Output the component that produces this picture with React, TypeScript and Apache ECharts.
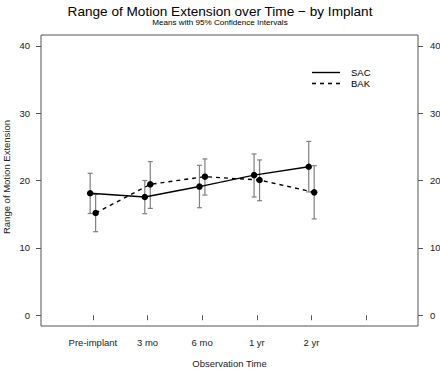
import React, { useEffect, useRef } from "react";
import * as echarts from "echarts";

const categories = ["Pre-implant", "3 mo", "6 mo", "1 yr", "2 yr"];
const seriesNames = ["SAC", "BAK"];
const sacMean = [18.1, 17.55, 19.1, 20.8, 22.05];
const sacLow = [15.1, 15.07, 15.96, 17.55, 18.3];
const sacHigh = [21.07, 20.0, 22.26, 23.94, 25.8];
const bakMean = [15.17, 19.43, 20.57, 20.07, 18.24];
const bakLow = [12.4, 15.86, 17.84, 17.0, 14.3];
const bakHigh = [17.94, 22.8, 23.2, 23.05, 22.2];
const yTicks = [0, 10, 20, 30, 40];
const xTicks = [1, 2, 3, 4, 5, 6];
const yAxisTitle = "Range of Motion Extension";

const FONT = "Liberation Sans, Arial, sans-serif";
const OFFSET = 0.05;

export default function App() {
  const ref = useRef<HTMLDivElement>(null);
  useEffect(() => {
    if (!ref.current) return;
    const chart = echarts.init(ref.current, null, { renderer: "svg" });

    const sacPts = sacMean.map((v, i) => [i + 1 - OFFSET, v]);
    const bakPts = bakMean.map((v, i) => [i + 1 + OFFSET, v]);
    const errData = [
      ...sacMean.map((_, i) => [i + 1 - OFFSET, sacLow[i], sacHigh[i]]),
      ...bakMean.map((_, i) => [i + 1 + OFFSET, bakLow[i], bakHigh[i]]),
    ];

    const yAxisCommon = {
      type: "value" as const,
      min: -1.6,
      max: 41.6,
      splitLine: { show: false },
      axisLine: { show: false },
      axisTick: {
        show: true,
        length: 5,
        customValues: yTicks,
        lineStyle: { color: "#555", width: 1 },
      },
    };
    const labelStyle = { fontSize: 9.5, color: "#222", fontFamily: FONT };

    chart.setOption({
      animation: false,
      backgroundColor: "#fff",
      title: [
        {
          text: "Range of Motion Extension over Time \u2212 by Implant",
          left: "center",
          top: 4,
          padding: 0,
          textStyle: { fontSize: 13.6, fontWeight: "normal", color: "#000", fontFamily: FONT },
        },
        {
          text: "Means with 95% Confidence Intervals",
          left: "center",
          top: 18,
          padding: 0,
          textStyle: { fontSize: 8.1, fontWeight: "normal", color: "#000", fontFamily: FONT },
        },
      ],
      grid: {
        left: 41,
        right: 22,
        top: 35,
        bottom: 43,
        containLabel: false,
        outerBoundsMode: "none",
        show: true,
        borderColor: "#555",
        borderWidth: 1,
        backgroundColor: "transparent",
      },
      xAxis: {
        type: "value",
        min: 0.05,
        max: 6.95,
        splitLine: { show: false },
        axisLine: { show: false },
        axisTick: {
          show: true,
          length: 5,
          customValues: xTicks,
          lineStyle: { color: "#555", width: 1 },
        },
        axisLabel: {
          customValues: xTicks,
          formatter: (v: number) => categories[Math.round(v) - 1] ?? "",
          ...labelStyle,
          margin: 11,
        },
        name: "Observation Time",
        nameLocation: "middle",
        nameGap: 32,
        nameTextStyle: labelStyle,
      },
      yAxis: [
        {
          ...yAxisCommon,
          position: "left",
          axisLabel: { customValues: yTicks, ...labelStyle, margin: 11 },
        },
        {
          ...yAxisCommon,
          position: "right",
          axisLabel: { customValues: yTicks, ...labelStyle, margin: 12 },
        },
      ],
      series: [
        {
          type: "custom",
          name: "CI",
          data: errData,
          z: 1,
          renderItem: (params: any, api: any) => {
            const x = api.value(0);
            const lo = api.coord([x, api.value(1)]);
            const hi = api.coord([x, api.value(2)]);
            const hw = 2.5;
            const style = { stroke: "#808080", lineWidth: 1.2 };
            return {
              type: "group",
              children: [
                { type: "line", shape: { x1: lo[0], y1: lo[1], x2: hi[0], y2: hi[1] }, style },
                { type: "line", shape: { x1: lo[0] - hw, y1: lo[1], x2: lo[0] + hw, y2: lo[1] }, style },
                { type: "line", shape: { x1: hi[0] - hw, y1: hi[1], x2: hi[0] + hw, y2: hi[1] }, style },
              ],
            };
          },
        },
        {
          type: "line",
          name: seriesNames[0],
          data: sacPts,
          z: 3,
          symbol: "circle",
          symbolSize: 6.5,
          itemStyle: { color: "#000" },
          lineStyle: { color: "#000", width: 1.4, type: "solid" },
        },
        {
          type: "line",
          name: seriesNames[1],
          data: bakPts,
          z: 3,
          symbol: "circle",
          symbolSize: 6.5,
          itemStyle: { color: "#000" },
          lineStyle: { color: "#000", width: 1.4, type: [4, 4] },
        },
      ],
      graphic: [
        {
          type: "text",
          x: 6,
          y: 177,
          rotation: Math.PI / 2,
          style: {
            text: yAxisTitle,
            fontSize: 9.5,
            fill: "#222",
            fontFamily: FONT,
            align: "center",
            verticalAlign: "middle",
          },
        },
        {
          type: "line",
          shape: { x1: 312, y1: 72.5, x2: 340, y2: 72.5 },
          style: { stroke: "#000", lineWidth: 1.4 },
        },
        {
          type: "line",
          shape: { x1: 312, y1: 83.5, x2: 340, y2: 83.5 },
          style: { stroke: "#000", lineWidth: 1.4, lineDash: [4, 4] },
        },
        {
          type: "text",
          x: 351,
          y: 72.5,
          style: { text: seriesNames[0], fontSize: 9.5, fill: "#000", fontFamily: FONT, verticalAlign: "middle" },
        },
        {
          type: "text",
          x: 351,
          y: 83.5,
          style: { text: seriesNames[1], fontSize: 9.5, fill: "#000", fontFamily: FONT, verticalAlign: "middle" },
        },
      ],
    });
    return () => chart.dispose();
  }, []);

  return <div ref={ref} style={{ width: 440, height: 369, position: "fixed", left: 0, top: 0 }} />;
}
